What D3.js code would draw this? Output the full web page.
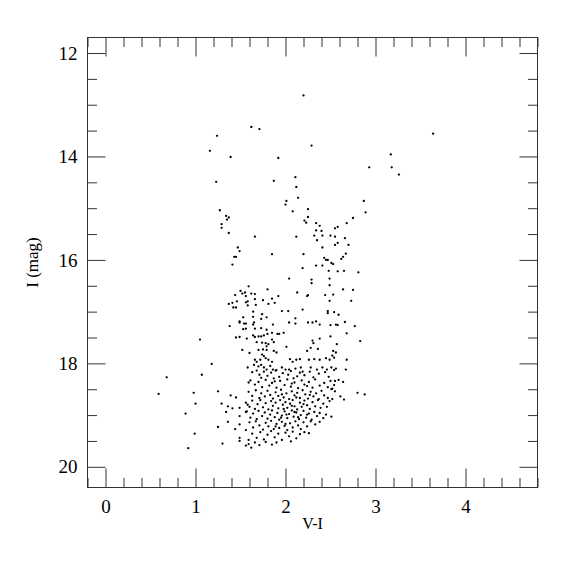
<!DOCTYPE html>
<html>
<head>
<meta charset="utf-8">
<script src="https://cdn.jsdelivr.net/npm/d3@7"></script>
<style>
  body { margin: 0; background: #fff; }
  svg { display: block; }
</style>
</head>
<body>
<svg id="chart" width="575" height="575"></svg>
<script>
// ---- Data: [V-I, I] pairs ----
const brightStars = [
  [2.20,12.82],[1.62,13.43],[1.71,13.47],[1.24,13.60],[3.64,13.56],[2.29,13.79],[1.16,13.89],
  [1.39,14.01],[1.92,14.03],[3.17,13.96],[2.93,14.21],[3.18,14.21],[3.26,14.35],[2.11,14.40],
  [1.87,14.47],[1.23,14.49],[2.12,14.59],[2.14,14.80],[2.01,14.86],[2.00,14.93],[2.87,14.86],
  [2.89,15.08],[2.08,15.06]
];
const blueBranch = [
  [1.27,15.04],[1.34,15.15],[1.37,15.18],[1.35,15.22],[1.29,15.31],[1.29,15.38],[1.37,15.48],
  [1.66,15.55],[1.47,15.76],[1.49,15.83],[1.43,15.94],[1.45,15.94],[1.41,16.09]
];
const redBranch = [
  [2.25,15.02],[2.25,15.17],[2.75,15.19],[2.21,15.24],[2.23,15.28],[2.34,15.29],[2.38,15.34],
  [2.68,15.29],[2.58,15.36],[2.55,15.39],[2.34,15.43],[2.40,15.44],[2.12,15.55],[2.32,15.53],
  [2.41,15.53],[2.50,15.53],[2.55,15.55],[2.66,15.58],[2.35,15.62],[2.58,15.67],[2.55,15.71],
  [2.70,15.71],[2.41,15.76],[1.85,15.89],[2.20,15.89],[2.67,15.88],[2.64,15.94],[2.62,15.98],
  [2.43,15.96],[2.45,16.00],[2.47,16.00],[2.51,16.06],[2.53,16.08],[2.34,16.11],[2.41,16.11],
  [2.19,16.16],[2.48,16.21],[2.58,16.22],[2.65,16.21],[2.81,16.24],[2.04,16.36],[2.29,16.38],
  [2.49,16.36]
];
const blueCloud = [
  [1.59,16.51],[1.50,16.60],[1.52,16.65],[1.55,16.63],[1.44,16.68],[1.56,16.70],[1.37,16.85],
  [1.41,16.83],[1.46,16.80],[1.56,16.82],[1.58,16.80],[1.58,16.88],[1.42,16.92],[1.45,16.92],
  [1.53,17.11],[1.49,17.19],[1.49,17.21],[1.54,17.23],[1.56,17.23],[1.38,17.28],[1.53,17.34],
  [1.56,17.33],[1.05,17.54],[1.45,17.50],[1.49,17.49],[1.57,17.52],[1.52,17.74],[1.60,17.80],
  [1.18,18.01],[1.58,18.08],[1.07,18.22],[0.68,18.27],
  [1.59,18.37],[0.59,18.59],[0.98,18.57],[1.25,18.54],[1.39,18.62],[1.45,18.66],[1.00,18.78],
  [1.29,18.78],[1.36,18.83],[1.41,18.87],[1.49,18.86],[1.58,18.80],[0.89,18.97],[1.34,18.94],
  [1.56,18.94],[1.49,19.02],[1.36,19.13],[1.49,19.18],[1.25,19.23],[1.44,19.27],[1.56,19.29],
  [0.99,19.36],[1.49,19.44],[1.49,19.50],[1.59,19.48],[1.30,19.55],[1.56,19.59],[0.92,19.64],
  [1.90,19.53]
];
const midCloud = [
  [2.29,16.45],[2.49,16.49],[1.80,16.57],[1.62,16.65],[1.66,16.66],[2.25,16.68],[2.24,16.70],
  [2.13,16.63],[2.44,16.68],[2.49,16.79],[2.64,16.57],[2.75,16.58],[2.73,16.79],[1.66,16.76],
  [1.75,16.78],[1.85,16.75],[1.81,16.85],[1.88,16.83],[1.92,16.70],[1.67,16.87],[1.96,16.99],
  [2.03,16.99],[2.19,16.96],[2.47,16.99],[2.47,17.03],[2.54,17.01],[2.59,17.06],[1.64,17.00],
  [1.64,17.10],[1.74,17.05],[1.65,17.21],[1.64,17.25],[1.73,17.14],[1.79,17.11],[1.86,17.25],
  [2.04,17.21],[2.11,17.13],[2.11,17.23],[2.25,17.21],[2.30,17.21],[2.34,17.19],[2.38,17.25],
  [2.50,17.26],[2.56,17.25],[2.58,17.26],[2.66,17.20],[1.66,17.33],[1.73,17.32],[1.79,17.35],
  [1.64,17.46],[1.66,17.49],[1.70,17.48],[1.73,17.48],[1.76,17.46],[1.80,17.43],[1.85,17.41],
  [1.91,17.43],[1.93,17.43],[1.98,17.41],[2.31,17.61],[2.30,17.56],[2.50,17.48],[2.68,17.42],
  [2.83,17.57],[2.38,17.52],[1.68,17.59],[1.74,17.60],[1.78,17.61],[1.81,17.63],[1.85,17.54],
  [1.87,17.59],[1.79,17.67],[2.01,17.68],[1.70,17.74],[1.75,17.73],[1.79,17.74],[1.87,17.76],
  [1.90,17.79],[2.24,17.76],[2.28,17.70],[2.36,17.72],[2.53,17.76],[2.56,17.79],[2.68,17.93],
  [1.74,17.83],[1.76,17.86],[1.78,17.90],[1.66,17.93],[1.68,17.97],[1.72,17.93],[1.81,17.93],
  [1.85,17.97],[2.05,17.92],[2.08,17.97],[2.12,17.93],[2.16,17.92],[2.26,17.93],[2.32,17.92],
  [2.38,17.93],[2.45,17.90],[2.49,17.93],[1.65,18.03],[1.70,18.06],[1.73,18.03],[1.76,18.08],
  [1.79,18.12],[1.83,18.05],[1.86,18.12],[1.90,18.13],[1.96,18.08],[2.00,18.12],[2.04,18.12],
  [2.11,18.10],[2.17,18.08],[2.19,18.16],[2.28,18.08],[2.35,18.12],[2.41,18.08],[2.46,18.12],
  [2.51,18.08],[2.54,18.13],[2.67,18.12],
  [2.53,16.67],[2.77,17.28],[2.57,17.63],[2.52,17.85],[2.54,17.89],[2.56,18.10],[2.55,18.34],
  [2.59,18.32],[2.64,18.36],[2.54,18.42],[2.52,18.49],[2.51,18.50],[2.55,18.54],[2.80,18.57],
  [2.88,18.60],[2.61,18.64],[2.52,18.69],[2.65,18.70],[2.51,19.03]
];
const clumpCore = [
  [1.63,18.17],[1.68,18.14],[1.71,18.22],[1.76,18.16],[1.80,18.24],[1.84,18.18],[1.89,18.14],
  [1.93,18.26],[1.97,18.19],[2.03,18.22],[2.06,18.15],[2.13,18.25],[2.16,18.18],[2.21,18.23],
  [2.27,18.16],[2.31,18.27],[2.37,18.20],[2.44,18.17],[2.48,18.26],[1.73,18.28],[1.87,18.29],
  [2.09,18.29],
  [1.61,18.33],[1.66,18.41],[1.70,18.36],[1.74,18.46],[1.78,18.32],[1.82,18.43],[1.85,18.38],
  [1.90,18.47],[1.94,18.34],[1.99,18.42],[2.02,18.31],[2.06,18.45],[2.10,18.37],[2.14,18.48],
  [2.18,18.33],[2.21,18.41],[2.26,18.36],[2.30,18.47],[2.33,18.31],[2.38,18.43],[2.43,18.38],
  [2.47,18.46],[2.50,18.34],[1.88,18.35],[2.07,18.39],[2.24,18.44],
  [1.59,18.55],[1.63,18.63],[1.67,18.52],[1.71,18.67],[1.73,18.58],[1.77,18.64],[1.80,18.53],
  [1.83,18.61],[1.86,18.68],[1.89,18.56],[1.92,18.63],[1.95,18.51],[1.98,18.66],[2.01,18.58],
  [2.04,18.69],[2.07,18.54],[2.10,18.62],[2.13,18.57],[2.16,18.67],[2.19,18.52],[2.22,18.60],
  [2.25,18.68],[2.28,18.55],[2.31,18.64],[2.34,18.58],[2.37,18.69],[2.40,18.53],[2.43,18.62],
  [2.47,18.67],[1.96,18.60],[2.12,18.66],[2.27,18.61],
  [1.56,18.76],[1.60,18.84],[1.63,18.72],[1.66,18.88],[1.69,18.79],[1.72,18.71],[1.75,18.85],
  [1.78,18.77],[1.81,18.89],[1.84,18.73],[1.86,18.82],[1.89,18.76],[1.92,18.87],[1.94,18.71],
  [1.97,18.80],[2.00,18.75],[2.02,18.86],[2.05,18.78],[2.08,18.71],[2.10,18.83],[2.13,18.89],
  [2.16,18.76],[2.18,18.84],[2.21,18.72],[2.24,18.81],[2.27,18.88],[2.30,18.75],[2.33,18.83],
  [2.36,18.71],[2.39,18.86],[2.42,18.78],[2.46,18.84],[2.49,18.73],[1.98,18.88],[2.07,18.82],
  [2.20,18.79],
  [1.57,18.93],[1.61,19.05],[1.64,18.97],[1.68,19.08],[1.70,18.92],[1.74,19.02],[1.77,18.95],
  [1.80,19.07],[1.83,18.99],[1.85,18.91],[1.88,19.04],[1.91,18.96],[1.93,19.09],[1.96,19.01],
  [1.99,18.93],[2.02,19.06],[2.04,18.98],[2.07,18.91],[2.09,19.03],[2.12,18.95],[2.15,19.08],
  [2.17,19.00],[2.20,18.92],[2.23,19.05],[2.26,18.97],[2.29,19.09],[2.32,18.94],[2.35,19.02],
  [2.38,18.96],[2.42,19.06],[2.45,18.99],[2.01,18.99],[2.14,19.04],[2.24,18.99],[1.95,19.05],
  [2.10,18.94],
  [1.60,19.14],[1.64,19.24],[1.67,19.12],[1.71,19.20],[1.75,19.28],[1.78,19.15],[1.81,19.22],
  [1.84,19.11],[1.87,19.27],[1.90,19.17],[1.93,19.25],[1.96,19.13],[1.99,19.21],[2.02,19.29],
  [2.05,19.16],[2.08,19.24],[2.11,19.12],[2.14,19.20],[2.17,19.27],[2.20,19.14],[2.24,19.22],
  [2.28,19.12],[2.33,19.18],[2.38,19.13],[2.00,19.17],[1.89,19.22],
  [1.63,19.36],[1.68,19.44],[1.72,19.33],[1.76,19.47],[1.80,19.38],[1.84,19.31],[1.88,19.43],
  [1.92,19.36],[1.96,19.48],[2.00,19.34],[2.04,19.41],[2.08,19.32],[2.12,19.45],[2.16,19.37],
  [2.21,19.33],[2.26,19.35],
  [1.59,19.56],[1.62,19.63],[1.66,19.53],[1.71,19.58],[1.78,19.52],[1.85,19.57],[2.06,19.51]
];

const xMajor = [0, 1, 2, 3, 4];
const yMajor = [12, 14, 16, 18, 20];
const xLabel = "V-I";
const yLabel = "I (mag)";

// ---- Layout ----
const L = 87.5, R = 537.5, T = 37.5, B = 487.5;
const x = d3.scaleLinear().domain([-0.2, 4.8]).range([L, R]);
const y = d3.scaleLinear().domain([11.7, 20.4]).range([T, B]);

const svg = d3.select("#chart");
const lineColor = "#333";
const font = "'Liberation Serif', 'DejaVu Serif', serif";

const xMinor = d3.range(-0.2, 4.81, 0.2).map(v => +v.toFixed(2)).filter(v => !xMajor.includes(v));
const yMinor = d3.range(12, 20.01, 0.5).filter(v => !yMajor.includes(v));

function styleAxis(g) {
  g.select(".domain").remove();
  g.selectAll(".tick line").attr("stroke", lineColor).attr("stroke-width", 1);
}

// bottom
svg.append("g").attr("transform", `translate(0,${B})`)
  .call(d3.axisBottom(x).tickValues(xMajor).tickSizeInner(-19).tickSizeOuter(0).tickPadding(12).tickFormat(d3.format("d")))
  .call(styleAxis)
  .call(g => g.selectAll("text").attr("font-family", font).attr("font-size", 19).attr("fill", "#000").attr("dy", "0.71em"));
svg.append("g").attr("transform", `translate(0,${B})`)
  .call(d3.axisBottom(x).tickValues(xMinor).tickSizeInner(-9.5).tickSizeOuter(0).tickFormat(""))
  .call(styleAxis);
// top
svg.append("g").attr("transform", `translate(0,${T})`)
  .call(d3.axisTop(x).tickValues(xMajor).tickSizeInner(-19).tickSizeOuter(0).tickFormat(""))
  .call(styleAxis);
svg.append("g").attr("transform", `translate(0,${T})`)
  .call(d3.axisTop(x).tickValues(xMinor).tickSizeInner(-9.5).tickSizeOuter(0).tickFormat(""))
  .call(styleAxis);
// left
svg.append("g").attr("transform", `translate(${L},0)`)
  .call(d3.axisLeft(y).tickValues(yMajor).tickSizeInner(-18).tickSizeOuter(0).tickPadding(10).tickFormat(d3.format("d")))
  .call(styleAxis)
  .call(g => g.selectAll("text").attr("font-family", font).attr("font-size", 19).attr("fill", "#000"));
svg.append("g").attr("transform", `translate(${L},0)`)
  .call(d3.axisLeft(y).tickValues(yMinor).tickSizeInner(-9.5).tickSizeOuter(0).tickFormat(""))
  .call(styleAxis);
// right
svg.append("g").attr("transform", `translate(${R},0)`)
  .call(d3.axisRight(y).tickValues(yMajor).tickSizeInner(-18).tickSizeOuter(0).tickFormat(""))
  .call(styleAxis);
svg.append("g").attr("transform", `translate(${R},0)`)
  .call(d3.axisRight(y).tickValues(yMinor).tickSizeInner(-9.5).tickSizeOuter(0).tickFormat(""))
  .call(styleAxis);

// frame
svg.append("rect").attr("x", L).attr("y", T).attr("width", R - L).attr("height", B - T)
  .attr("fill", "none").attr("stroke", lineColor).attr("stroke-width", 1);

// points
const allStars = [].concat(brightStars, blueBranch, redBranch, blueCloud, midCloud, clumpCore);
svg.append("g").selectAll("circle").data(allStars).join("circle")
  .attr("cx", d => x(d[0])).attr("cy", d => y(d[1])).attr("r", 1.15).attr("fill", "#000");

// labels
svg.append("text").attr("x", (L + R) / 2).attr("y", 529).attr("text-anchor", "middle")
  .attr("font-family", font).attr("font-size", 16).attr("fill", "#000").text(xLabel);
svg.append("text").attr("transform", `translate(38,${(T + B) / 2}) rotate(-90)`).attr("text-anchor", "middle")
  .attr("font-family", font).attr("font-size", 17).attr("fill", "#000").text(yLabel);
</script>
</body>
</html>
